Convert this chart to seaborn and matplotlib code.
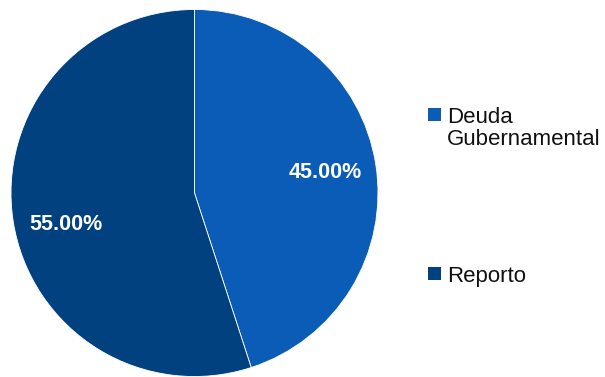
import matplotlib
matplotlib.use("Agg")
import matplotlib.pyplot as plt
from matplotlib.patches import Rectangle
import seaborn as sns

categories = ["Deuda\nGubernamental", "Reporto"]
shares = [45.00, 55.00]
colors = ["#0a5cb6", "#02417f"]

sns.set_theme(style="white")
plt.rcParams["font.family"] = ["Liberation Sans", "DejaVu Sans"]

W, H = 605, 377
fig = plt.figure(figsize=(W / 100, H / 100), dpi=100)

# pie centred at (194.5, 193) px, radius 183.5 px
cx, cy, r = 194.5, 193, 183.5
ax = fig.add_axes([(cx - r) / W, (H - cy - r) / H, 2 * r / W, 2 * r / H])

wedges, texts, autotexts = ax.pie(
    shares,
    colors=sns.color_palette(colors),
    startangle=90,
    counterclock=False,
    autopct="%.2f%%",
    pctdistance=0.72,
    wedgeprops=dict(linewidth=0.6, edgecolor="white"),
    textprops=dict(color="white", fontsize=15.5, fontweight="bold"),
)
# the larger slice's label sits a little below its bisector
x, y = autotexts[1].get_position()
autotexts[1].set_position((x + 0.01, y - 0.06))

ax.set_xlim(-1, 1)
ax.set_ylim(-1, 1)
ax.set_aspect("equal")

# legend: square swatch beside the first line of each label
legend_rows = [(108, 123), (267, 282)]  # (swatch top, text baseline) in px
for label, color, (top, base) in zip(categories, colors, legend_rows):
    fig.patches.append(Rectangle((428 / W, 1 - (top + 13) / H), 13 / W, 13 / H,
                                 facecolor=color, edgecolor="none",
                                 transform=fig.transFigure, figure=fig))
    lines = label.split("\n")
    for i, line in enumerate(lines):
        fig.text(447 / W, 1 - (base + 22 * i) / H, line, fontsize=16,
                 color="#111111", va="baseline", ha="left")

fig.savefig("out.png", dpi=100)
